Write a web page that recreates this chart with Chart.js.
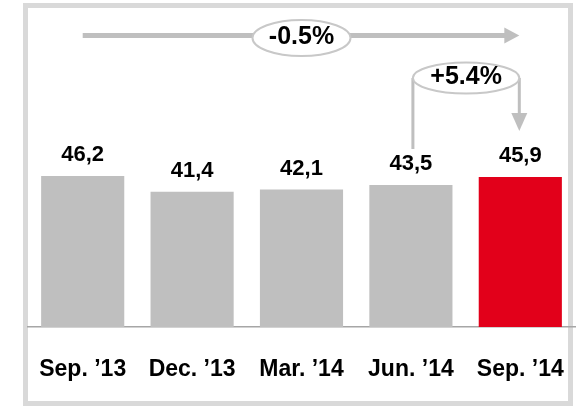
<!DOCTYPE html>
<html>
<head>
<meta charset="utf-8">
<script src="https://cdn.jsdelivr.net/npm/chart.js"></script>
<style>
  html, body { margin: 0; padding: 0; background: #fff; }
  #wrap { width: 578px; height: 408px; }
</style>
</head>
<body>
<div id="wrap"><canvas id="chart" width="578" height="408"></canvas></div>
<script>
// Quarter-end values
const categories = ['Sep. \u201913', 'Dec. \u201913', 'Mar. \u201914', 'Jun. \u201914', 'Sep. \u201914'];
const values = [46.2, 41.4, 42.1, 43.5, 45.9];
// Change callouts: whole period, last quarter
const changeLabels = ['-0.5%', '+5.4%'];

const FONT = '"Liberation Sans", Arial, sans-serif';
const GREY = '#bfbfbf';
const RED = '#e2001a';

const fmt = v => v.toFixed(1).replace('.', ',');

// frame around the whole chart
const framePlugin = {
  id: 'frame',
  beforeDraw(chart) {
    const ctx = chart.ctx;
    ctx.save();
    ctx.strokeStyle = '#d9d9d9';
    ctx.lineWidth = 5;
    ctx.strokeRect(25.5, 5.5, 545, 398);
    ctx.restore();
  }
};

// value labels above bars
const valueLabelPlugin = {
  id: 'valueLabels',
  afterDatasetsDraw(chart) {
    const ctx = chart.ctx;
    const meta = chart.getDatasetMeta(0);
    ctx.save();
    ctx.font = 'bold 22px ' + FONT;
    ctx.fillStyle = '#000';
    ctx.textAlign = 'center';
    ctx.textBaseline = 'middle';
    meta.data.forEach((bar, i) => {
      ctx.fillText(fmt(values[i]), bar.x, bar.y - 21);
    });
    ctx.restore();
  }
};

function drawBubble(ctx, cx, cy, rx, ry, text) {
  ctx.beginPath();
  ctx.ellipse(cx, cy, rx, ry, 0, 0, Math.PI * 2);
  ctx.fillStyle = '#fff';
  ctx.fill();
  ctx.lineWidth = 2;
  ctx.strokeStyle = '#c8c8c8';
  ctx.stroke();
  ctx.fillStyle = '#000';
  ctx.font = 'bold 25px ' + FONT;
  ctx.textAlign = 'center';
  ctx.textBaseline = 'middle';
  ctx.fillText(text, cx, cy - 1);
}

// arrows with change bubbles
const arrowPlugin = {
  id: 'arrows',
  afterDraw(chart) {
    const ctx = chart.ctx;
    const x = chart.scales.x;
    const first = x.getPixelForValue(0);
    const mid = x.getPixelForValue(2);
    const prev = x.getPixelForValue(3);
    const last = x.getPixelForValue(4);
    ctx.save();
    ctx.strokeStyle = GREY;
    ctx.fillStyle = GREY;

    // long horizontal arrow
    const y1 = 35.5;
    ctx.lineWidth = 5;
    ctx.beginPath();
    ctx.moveTo(first, y1);
    ctx.lineTo(last - 14, y1);
    ctx.stroke();
    ctx.beginPath();
    ctx.moveTo(last - 16, y1 - 8);
    ctx.lineTo(last - 1, y1);
    ctx.lineTo(last - 16, y1 + 8);
    ctx.closePath();
    ctx.fill();
    drawBubble(ctx, mid, 38, 49, 18, changeLabels[0]);

    // quarter-on-quarter arrow
    ctx.strokeStyle = GREY;
    ctx.fillStyle = GREY;
    const left = prev + 2;
    const right = last - 1;
    const yb = 78;
    ctx.lineWidth = 3;
    ctx.beginPath();
    ctx.moveTo(left, 149);
    ctx.lineTo(left, yb);
    ctx.moveTo(right, yb);
    ctx.lineTo(right, 114);
    ctx.stroke();
    ctx.beginPath();
    ctx.moveTo(right - 8, 113);
    ctx.lineTo(right + 8, 113);
    ctx.lineTo(right, 131);
    ctx.closePath();
    ctx.fill();
    drawBubble(ctx, (left + right) / 2, yb, (right - left) / 2, 15.5, changeLabels[1]);
    ctx.restore();
  }
};

new Chart(document.getElementById('chart'), {
  type: 'bar',
  data: {
    labels: categories,
    datasets: [{
      data: values,
      backgroundColor: [GREY, GREY, GREY, GREY, RED],
      borderWidth: 0,
      categoryPercentage: 1,
      barPercentage: 0.76
    }]
  },
  options: {
    responsive: false,
    animation: false,
    layout: { padding: { top: 131, left: 28, right: 3, bottom: 25 } },
    plugins: {
      legend: { display: false },
      tooltip: { enabled: false }
    },
    scales: {
      x: {
        grid: { display: false, drawTicks: false },
        border: { display: true, color: '#a6a6a6', width: 1.5 },
        ticks: {
          color: '#000',
          padding: 29,
          autoSkip: false,
          maxRotation: 0,
          minRotation: 0,
          font: { family: FONT, size: 23, weight: 'bold' }
        },
        afterFit(scale) {
          scale.paddingLeft = 0;
          scale.paddingRight = 0;
          scale.height = 56;
        }
      },
      y: {
        display: false,
        min: 0,
        max: 60
      }
    }
  },
  plugins: [framePlugin, valueLabelPlugin, arrowPlugin]
});
</script>
</body>
</html>
